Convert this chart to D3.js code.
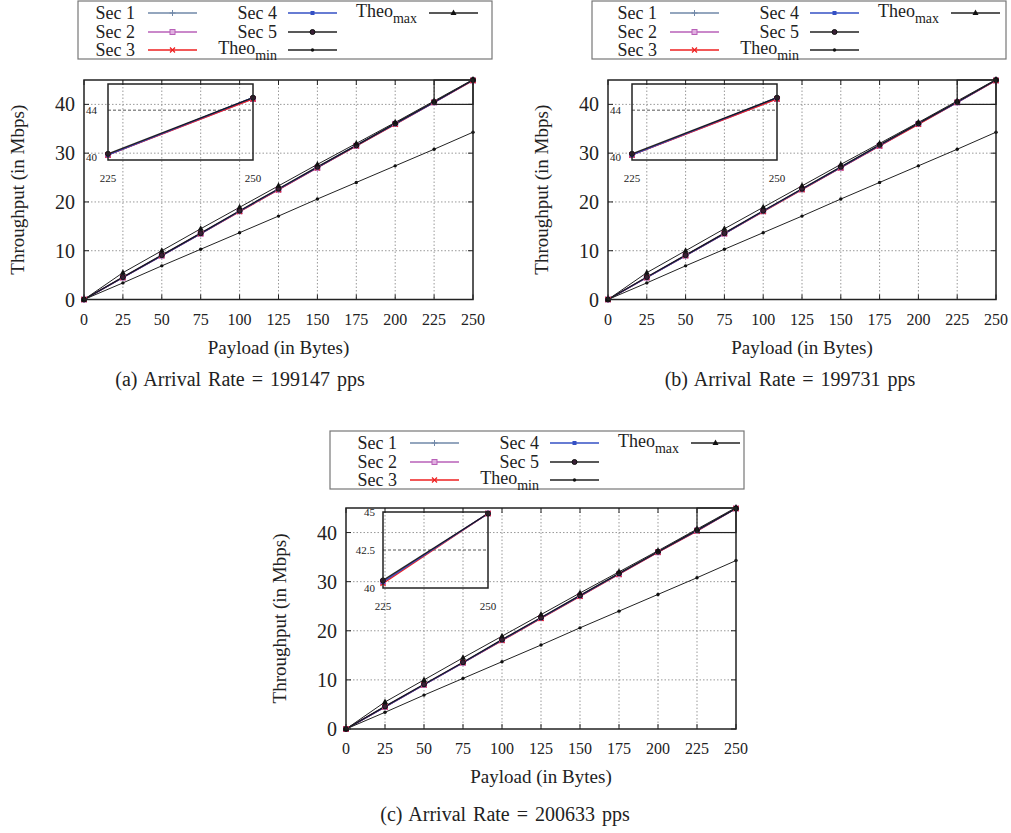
<!DOCTYPE html>
<html>
<head>
<meta charset="utf-8">
<script src="https://cdn.jsdelivr.net/npm/d3@7"></script>
<style>
  body { margin: 0; background: #fff; }
  svg text { fill: #222; }
</style>
</head>
<body>
<svg id="chart" width="1011" height="833" font-family="'Liberation Serif', 'DejaVu Serif', 'Noto Serif', Times, serif"></svg>
<script>
// ---- data ----
const payload = [0, 25, 50, 75, 100, 125, 150, 175, 200, 225, 250];
const yTicks = [0, 10, 20, 30, 40];
const secNames = ["Sec 1", "Sec 2", "Sec 3", "Sec 4", "Sec 5"];

const theoMax = [0, 5.5, 10.0, 14.5, 18.9, 23.3, 27.7, 32.0, 36.3, 40.7, 45.1];
const theoMin = [0, 3.4, 6.9, 10.3, 13.7, 17.1, 20.6, 24.0, 27.4, 30.8, 34.3];

// Sec 1..5 for each arrival rate
const secA = [
  [0, 4.5, 9.0, 13.5, 18.1, 22.6, 27.1, 31.5, 36.0, 40.4, 45.0],
  [0, 4.5, 9.0, 13.5, 18.1, 22.5, 27.0, 31.5, 36.0, 40.4, 44.9],
  [0, 4.5, 9.0, 13.5, 18.0, 22.5, 27.0, 31.5, 35.9, 40.4, 44.9],
  [0, 4.5, 9.0, 13.5, 18.1, 22.6, 27.1, 31.6, 36.0, 40.4, 45.0],
  [0, 4.6, 9.1, 13.6, 18.2, 22.7, 27.2, 31.6, 36.1, 40.5, 45.0]
];
const secB = [
  [0, 4.5, 9.0, 13.5, 18.1, 22.6, 27.1, 31.6, 36.0, 40.4, 45.0],
  [0, 4.5, 9.0, 13.5, 18.1, 22.6, 27.0, 31.5, 36.0, 40.4, 44.9],
  [0, 4.5, 9.0, 13.5, 18.0, 22.5, 27.0, 31.5, 35.9, 40.4, 44.9],
  [0, 4.5, 9.0, 13.5, 18.1, 22.6, 27.1, 31.6, 36.1, 40.4, 45.0],
  [0, 4.6, 9.1, 13.6, 18.2, 22.7, 27.2, 31.7, 36.1, 40.5, 45.0]
];
const secC = [
  [0, 4.5, 9.0, 13.5, 18.1, 22.6, 27.1, 31.6, 36.0, 40.4, 44.9],
  [0, 4.5, 9.0, 13.5, 18.1, 22.6, 27.1, 31.5, 36.0, 40.4, 44.9],
  [0, 4.5, 9.0, 13.5, 18.0, 22.5, 27.0, 31.5, 36.0, 40.3, 44.9],
  [0, 4.5, 9.0, 13.5, 18.1, 22.6, 27.1, 31.6, 36.1, 40.4, 44.9],
  [0, 4.6, 9.1, 13.6, 18.2, 22.7, 27.2, 31.7, 36.1, 40.5, 44.9]
];

const captions = [
  "(a)  Arrival Rate = 199147 pps",
  "(b)  Arrival Rate = 199731 pps",
  "(c)  Arrival Rate = 200633 pps"
];
const insetTicksAB = [40, 44];
const insetTicksC = [40, 42.5, 45];
const insetXTicks = [225, 250];

// ---- styling ----
const secStyle = [
  { color: "#7088a8", mark: "plus" },
  { color: "#b860b8", mark: "square" },
  { color: "#ee2020", mark: "cross" },
  { color: "#3450c4", mark: "fsquare" },
  { color: "#111", mark: "circle" }
];
const theoMaxStyle = { color: "#111", mark: "tri" };
const theoMinStyle = { color: "#111", mark: "dot" };

const svg = d3.select("#chart");

function drawMark(g, type, x, y, color) {
  if (type === "plus") {
    g.append("path").attr("d", `M${x-3},${y}H${x+3}M${x},${y-3}V${y+3}`)
      .attr("stroke", color).attr("stroke-width", 1);
  } else if (type === "cross") {
    g.append("path").attr("d", `M${x-2.5},${y-2.5}L${x+2.5},${y+2.5}M${x-2.5},${y+2.5}L${x+2.5},${y-2.5}`)
      .attr("stroke", color).attr("stroke-width", 1.2);
  } else if (type === "square") {
    g.append("rect").attr("x", x-2.5).attr("y", y-2.5).attr("width", 5).attr("height", 5)
      .attr("fill", "#e0b0e0").attr("stroke", color).attr("stroke-width", 1);
  } else if (type === "fsquare") {
    g.append("rect").attr("x", x-2).attr("y", y-2).attr("width", 4).attr("height", 4)
      .attr("fill", color);
  } else if (type === "circle") {
    g.append("circle").attr("cx", x).attr("cy", y).attr("r", 2.5)
      .attr("fill", "#3a2036").attr("stroke", color).attr("stroke-width", 1);
  } else if (type === "dot") {
    g.append("circle").attr("cx", x).attr("cy", y).attr("r", 1.7).attr("fill", color);
  } else if (type === "tri") {
    g.append("path").attr("d", `M${x},${y-3.5}L${x+3},${y+2}L${x-3},${y+2}Z`).attr("fill", color);
  }
}

function drawPanel(cfg, idx) {
  const g = svg.append("g");
  const x = d3.scaleLinear().domain([0, 250]).range([cfg.x0, cfg.x1]);
  const y = d3.scaleLinear().domain([0, 45]).range([cfg.yBot, cfg.yTop]);
  const line = d3.line().x((d, i) => x(payload[i])).y(d => y(d));

  // grid
  g.append("g").selectAll("line").data(payload.slice(1, -1)).join("line")
    .attr("x1", d => x(d)).attr("x2", d => x(d)).attr("y1", cfg.yTop).attr("y2", cfg.yBot)
    .attr("stroke", "#999").attr("stroke-width", 1).attr("stroke-dasharray", "1.5,2");
  g.append("g").selectAll("line").data(yTicks.slice(1)).join("line")
    .attr("x1", cfg.x0).attr("x2", cfg.x1).attr("y1", d => y(d)).attr("y2", d => y(d))
    .attr("stroke", "#999").attr("stroke-width", 1).attr("stroke-dasharray", "1.5,2");

  // inner tick marks
  const tk = g.append("g").attr("stroke", "#222").attr("stroke-width", 1);
  payload.forEach(v => {
    tk.append("line").attr("x1", x(v)).attr("x2", x(v)).attr("y1", cfg.yBot).attr("y2", cfg.yBot - 5);
    tk.append("line").attr("x1", x(v)).attr("x2", x(v)).attr("y1", cfg.yTop).attr("y2", cfg.yTop + 5);
  });
  yTicks.forEach(v => {
    tk.append("line").attr("x1", cfg.x0).attr("x2", cfg.x0 + 5).attr("y1", y(v)).attr("y2", y(v));
    tk.append("line").attr("x1", cfg.x1).attr("x2", cfg.x1 - 5).attr("y1", y(v)).attr("y2", y(v));
  });

  // series
  const lines = g.append("g").attr("fill", "none");
  cfg.sec.forEach((vals, k) => {
    lines.append("path").datum(vals).attr("d", line)
      .attr("stroke", secStyle[k].color).attr("stroke-width", 1.3)
      .attr("stroke-opacity", k === 4 ? 0.9 : 1);
  });
  lines.append("path").datum(theoMin).attr("d", line).attr("stroke", "#222").attr("stroke-width", 1);
  lines.append("path").datum(theoMax).attr("d", line).attr("stroke", "#222").attr("stroke-width", 1);
  const marks = g.append("g");
  cfg.sec.forEach((vals, k) => vals.forEach((v, i) => drawMark(marks, secStyle[k].mark, x(payload[i]), y(v), secStyle[k].color)));
  theoMin.forEach((v, i) => drawMark(marks, theoMinStyle.mark, x(payload[i]), y(v), theoMinStyle.color));
  theoMax.forEach((v, i) => drawMark(marks, theoMaxStyle.mark, x(payload[i]), y(v), theoMaxStyle.color));

  // zoomed region marker
  g.append("rect").attr("x", x(225)).attr("y", y(45)).attr("width", x(250) - x(225)).attr("height", y(40) - y(45))
    .attr("fill", "none").attr("stroke", "#222").attr("stroke-width", 1.2);

  // border
  g.append("rect").attr("x", cfg.x0).attr("y", cfg.yTop).attr("width", cfg.x1 - cfg.x0).attr("height", cfg.yBot - cfg.yTop)
    .attr("fill", "none").attr("stroke", "#222").attr("stroke-width", 1.5);

  // tick labels
  g.append("g").selectAll("text").data(payload).join("text")
    .attr("x", d => x(d)).attr("y", cfg.yBot + 25).attr("text-anchor", "middle")
    .attr("font-size", 16).text(d => d);
  g.append("g").selectAll("text").data(yTicks).join("text")
    .attr("x", cfg.x0 - 9).attr("y", d => y(d) + 7).attr("text-anchor", "end")
    .attr("font-size", 20).text(d => d);

  // axis titles
  g.append("text").attr("x", (cfg.x0 + cfg.x1) / 2).attr("y", cfg.yBot + 54)
    .attr("text-anchor", "middle").attr("font-size", 19).text("Payload (in Bytes)");
  g.append("text").attr("transform", `translate(${cfg.x0 - 60},${(cfg.yTop + cfg.yBot) / 2}) rotate(-90)`)
    .attr("text-anchor", "middle").attr("font-size", 19).text("Throughput (in Mbps)");

  // inset
  const ins = cfg.inset;
  const bx0 = cfg.x0 + ins.dx, by0 = cfg.yTop + ins.dy;
  const ix = d3.scaleLinear().domain([225, 250]).range([bx0, bx0 + ins.w]);
  const iy = d3.scaleLinear().domain(ins.domain).range([by0 + ins.h, by0]);
  const ig = g.append("g");
  ig.selectAll("line.ig").data(ins.ticks.filter(t => t > ins.domain[0] && t < ins.domain[1])).join("line")
    .attr("x1", bx0).attr("x2", bx0 + ins.w).attr("y1", d => iy(d)).attr("y2", d => iy(d))
    .attr("stroke", "#555").attr("stroke-width", 1).attr("stroke-dasharray", "3,2");
  const clipId = "clip" + idx;
  ig.append("clipPath").attr("id", clipId).append("rect")
    .attr("x", bx0 - 4).attr("y", by0 - 4).attr("width", ins.w + 8).attr("height", ins.h + 8);
  const il = ig.append("g").attr("clip-path", `url(#${clipId})`).attr("fill", "none");
  cfg.sec.forEach((vals, k) => {
    const sub = vals.slice(9);
    il.append("path").datum(sub)
      .attr("d", d3.line().x((d, i) => ix(payload[9 + i])).y(d => iy(d)))
      .attr("stroke", secStyle[k].color).attr("stroke-width", 1.3)
      .attr("stroke-opacity", k === 4 ? 0.9 : 1);
  });
  cfg.sec.forEach((vals, k) => [9, 10].forEach(i => drawMark(il, secStyle[k].mark, ix(payload[i]), iy(vals[i]), secStyle[k].color)));
  ig.append("rect").attr("x", bx0).attr("y", by0).attr("width", ins.w).attr("height", ins.h)
    .attr("fill", "none").attr("stroke", "#222").attr("stroke-width", 1.5);
  ig.selectAll("text.iy").data(ins.ticks).join("text")
    .attr("x", ins.labelAnchor === "start" ? cfg.x0 + 2 : bx0 - 8)
    .attr("y", d => iy(d) + 4 + (ins.labelAnchor === "start" && d === ins.domain[0] ? -3 : 0))
    .attr("text-anchor", ins.labelAnchor).attr("font-size", 11).attr("fill", "#333").text(d => d);
  ig.selectAll("text.ix").data(insetXTicks).join("text")
    .attr("x", d => ix(d)).attr("y", by0 + ins.h + 22).attr("text-anchor", "middle")
    .attr("font-size", 11).attr("fill", "#333").text(d => d);

  // legend
  const L = cfg.legend;
  const lg = g.append("g");
  lg.append("rect").attr("x", L.bx).attr("y", L.by).attr("width", 414).attr("height", 58)
    .attr("fill", "#fff").attr("stroke", "#777").attr("stroke-width", 1.2);
  const textRight = [57, 199, 339], lineStart = [70, 210, 351], rowY = [12, 31, 49];
  const entries = [
    { col: 0, row: 0, name: "Sec 1", st: secStyle[0] },
    { col: 0, row: 1, name: "Sec 2", st: secStyle[1] },
    { col: 0, row: 2, name: "Sec 3", st: secStyle[2] },
    { col: 1, row: 0, name: "Sec 4", st: secStyle[3] },
    { col: 1, row: 1, name: "Sec 5", st: secStyle[4] },
    { col: 1, row: 2, name: "Theo", sub: "min", st: theoMinStyle },
    { col: 2, row: 0, name: "Theo", sub: "max", st: theoMaxStyle }
  ];
  entries.forEach(e => {
    const ty = L.oy + rowY[e.row];
    const t = lg.append("text").attr("x", L.ox + textRight[e.col]).attr("y", ty + (e.sub ? 4 : 6))
      .attr("text-anchor", "end").attr("font-size", 18);
    t.append("tspan").text(e.name);
    if (e.sub) t.append("tspan").attr("dy", 6).attr("font-size", 14).text(e.sub);
    const lx = L.ox + lineStart[e.col];
    lg.append("line").attr("x1", lx).attr("x2", lx + 49).attr("y1", ty).attr("y2", ty)
      .attr("stroke", e.st.color === "#111" ? "#222" : e.st.color).attr("stroke-width", 1.3);
    drawMark(lg, e.st.mark, lx + 24.5, ty, e.st.color);
  });

  // caption
  svg.append("text").attr("x", cfg.capX).attr("y", cfg.capY).attr("text-anchor", "middle")
    .attr("font-size", 20).attr("word-spacing", 2).text(captions[idx]);
}

const insetAB = { dx: 24, dy: 4, w: 145, h: 76, domain: [40, 46.1], ticks: insetTicksAB, labelAnchor: "start" };
const insetCc = { dx: 37, dy: 4, w: 105, h: 76, domain: [40, 45], ticks: insetTicksC, labelAnchor: "end" };

const panels = [
  { x0: 84, x1: 473, yTop: 80, yBot: 299.5, sec: secA, inset: insetAB,
    legend: { bx: 78, by: 1, ox: 78, oy: 1 }, capX: 240, capY: 386 },
  { x0: 608, x1: 996, yTop: 80, yBot: 299.5, sec: secB, inset: insetAB,
    legend: { bx: 592, by: 1, ox: 600, oy: 1 }, capX: 790, capY: 386 },
  { x0: 346, x1: 736, yTop: 508, yBot: 729, sec: secC, inset: insetCc,
    legend: { bx: 330, by: 431, ox: 340, oy: 431 }, capX: 505, capY: 821 }
];
panels.forEach((p, i) => drawPanel(p, i));
</script>
</body>
</html>
